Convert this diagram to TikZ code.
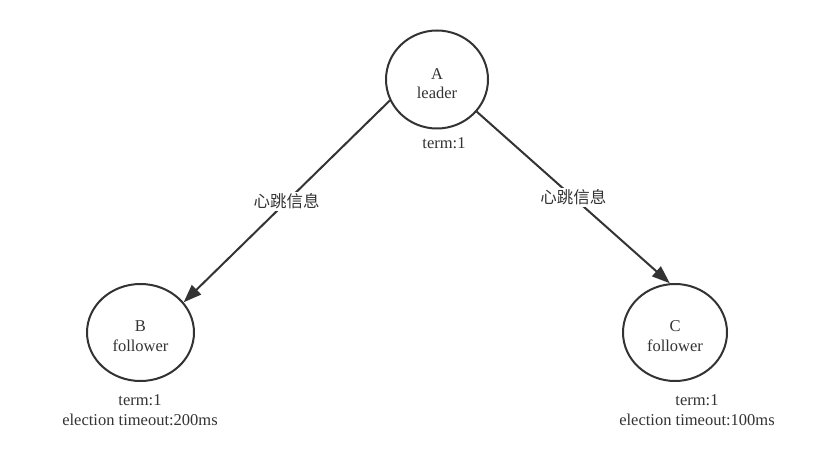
\documentclass[tikz,border=0pt]{standalone}
\usepackage{fontspec}
\setmainfont{Liberation Serif}
\newfontfamily\cjk{Noto Sans CJK SC}
\usetikzlibrary{arrows.meta,shapes.geometric}
\definecolor{ink}{HTML}{333333}
\begin{document}
\begin{tikzpicture}[x=1pt,y=-1pt,
  state/.style={ellipse,draw=ink,line width=2pt,inner sep=0pt},
  info/.style={align=center,text=ink,inner sep=0pt,font=\fontsize{16.5}{19.5}\selectfont},
  conn/.style={draw=ink,line width=2pt,-{Triangle[length=18pt,width=13pt]}},
  lab/.style={fill=white,inner sep=1.5pt,text=ink,font=\cjk\fontsize{16.5}{18}\selectfont}]
\useasboundingbox[fill=white] (0,0) rectangle (832,454);
\node[state,minimum width=102pt,minimum height=98pt] (A) at (437,79.5) {};
\node[state,minimum width=107pt,minimum height=97pt] (B) at (140.5,332.5) {};
\node[state,minimum width=104pt,minimum height=97pt] (C) at (675,332.5) {};
\node[info] (nA) at (437,83.5) {A\\leader};
\node[info] (nB) at (140.5,336) {B\\follower};
\node[info] (nC) at (675,336) {C\\follower};
\node[info] (tA) at (444,143.5) {term:1};
\node[info] (tB) at (140,410) {term:1\\election timeout:200ms};
\node[info] (tC) at (697,410) {term:1\\election timeout:100ms};
\draw[conn] (A.204) -- node[lab] (l1) {心跳信息} (B.35);
\draw[conn] (A.321) -- node[lab] (l2) {心跳信息} (C.96);
\end{tikzpicture}
\end{document}
